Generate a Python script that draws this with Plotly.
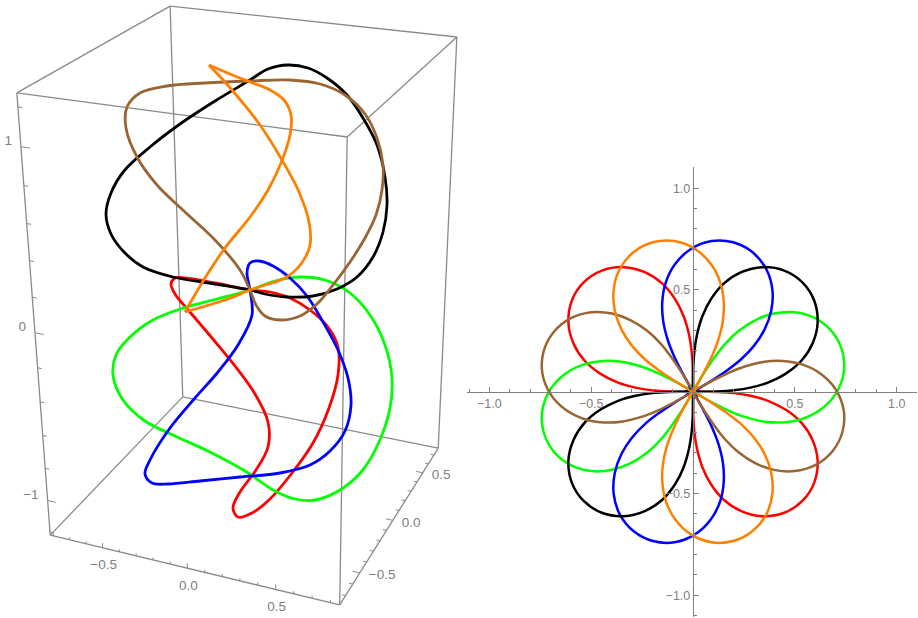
import numpy as np
import plotly.graph_objects as go

GRAY = "#808080"
BOX_FONT = dict(family="Liberation Sans, Arial, sans-serif", size=13.5, color=GRAY)
ROSE_FONT = dict(family="Liberation Sans, Arial, sans-serif", size=12.5, color=GRAY)

# Colours and drawing order
curve_names = ["red", "green", "blue", "black", "brown", "orange"]
curve_colors = {"red": "#ff0000", "green": "#00ff00", "blue": "#0000ff",
                "black": "#000000", "brown": "#996633", "orange": "#ff8000"}

# Left panel, 3D box limits and ticks
x_limits = [-0.82, 0.85]
y_limits = [-0.78, 0.78]
z_limits = [-1.22, 1.27]
x_minor = [-0.8, -0.7, -0.6, -0.4, -0.3, -0.2, -0.1, 0.1, 0.2, 0.3, 0.4, 0.6, 0.7, 0.8]
y_minor = [-0.7, -0.6, -0.4, -0.3, -0.2, -0.1, 0.1, 0.2, 0.3, 0.4, 0.6, 0.7]
z_minor = [-1.2, -0.8, -0.6, -0.4, -0.2, 0.2, 0.4, 0.6, 0.8, 1.2]
xy_major = [-0.5, 0.0, 0.5]
xy_major_text = ["\u22120.5", "0.0", "0.5"]
z_major = [-1, 0, 1]
z_major_text = ["\u22121", "0", "1"]

# Where the eight box corners fall in the view plane, in (x, y, z) order:
# (x0,y0,z0) (x0,y0,z1) (x0,y1,z0) (x0,y1,z1) (x1,y0,z0) (x1,y0,z1) (x1,y1,z0) (x1,y1,z1)
corner_u = [50, 17, 183, 170, 340, 347, 438, 457]
corner_v = [535, 93, 397, 6, 605, 137, 448, 37]

# Left panel, the curves as seen in the view plane.
black_u = [250, 215, 173, 143, 124, 111, 106, 111, 124, 150, 180, 215, 250, 268, 288, 308, 327, 347, 363, 377, 385,
           387, 383, 373, 357, 337, 313, 287, 265, 250]
black_v = [290, 284, 277, 267, 252, 234, 214, 193, 171, 147, 124, 101, 80, 69, 65, 68, 78, 95, 118, 145, 177,
           205, 232, 257, 277, 289, 296, 297, 294, 290]
brown_u = [250, 240, 215, 185, 157, 137, 126, 127, 140, 167, 205, 250, 290, 320, 345, 365, 377, 383, 382, 376, 365,
           350, 333, 318, 300, 280, 265, 256, 250]
brown_v = [290, 270, 240, 212, 185, 157, 128, 107, 93, 86, 83, 81, 80, 84, 95, 114, 138, 165, 190, 215, 238,
           262, 285, 303, 316, 320, 316, 305, 290]
# orange has two sharp corners, so it is kept in two pieces
orange_u = [185, 205, 225, 250, 268, 281, 290, 291, 284, 270, 250, 230, 209, None,
            209, 232, 260, 282, 299, 309, 310, 301, 285, 265, 250, 225, 185]
orange_v = [312, 278, 248, 217, 190, 163, 135, 115, 100, 90, 82, 74, 65, None,
            65, 90, 125, 160, 192, 222, 245, 264, 278, 285, 290, 300, 312]
red_u = [250, 215, 185, 175, 171, 175, 190, 212, 235, 255, 268, 268, 256, 240, 233, 238, 252, 270, 292, 313, 329,
         338, 338, 328, 310, 290, 270, 250]
red_v = [290, 283, 278, 278, 284, 294, 312, 338, 366, 394, 422, 447, 470, 492, 508, 517, 513, 499, 473, 443, 408,
         375, 347, 327, 310, 298, 292, 290]
blue_u = [250, 247, 250, 259, 273, 290, 307, 323, 338, 348, 351, 345, 330, 310, 280, 240, 200, 168, 152, 145, 150,
          170, 195, 218, 238, 252, 250]
blue_v = [290, 273, 263, 261, 266, 278, 296, 322, 350, 378, 405, 431, 451, 465, 473, 477, 481, 484, 483, 474, 460,
          428, 398, 372, 345, 315, 290]
green_u = [183, 153, 130, 116, 113, 123, 145, 175, 210, 245, 275, 295, 315, 340, 362, 379, 390, 392, 385, 370, 350,
           325, 300, 275, 250, 217, 183]
green_v = [308, 320, 337, 355, 375, 400, 421, 436, 452, 471, 491, 499, 500, 490, 471, 442, 408, 378, 345, 315, 293,
           280, 277, 281, 290, 299, 308]

# Right panel, the same colours as two-lobed roses
black_x = [0, .050, .119, .201, .282, .371, .456, .532, .587, .612, .595, .537, .448, .339, .237, .152, .089, .046, .020, .007, .001, 0, 0, None,
           0, -.050, -.119, -.201, -.282, -.371, -.456, -.532, -.587, -.612, -.595, -.537, -.448, -.339, -.237, -.152, -.089, -.046, -.020, -.007, -.001, 0, 0]
black_y = [0, 0, .001, .007, .020, .046, .089, .152, .237, .339, .448, .537, .595, .612, .587, .532, .456, .371, .282, .201, .119, .050, 0, None,
           0, 0, -.001, -.007, -.020, -.046, -.089, -.152, -.237, -.339, -.448, -.537, -.595, -.612, -.587, -.532, -.456, -.371, -.282, -.201, -.119, -.050, 0]
red_x = [0, 0, -.001, -.007, -.020, -.046, -.089, -.152, -.237, -.339, -.448, -.537, -.595, -.612, -.587, -.532, -.456, -.371, -.282, -.201, -.119, -.050, 0, None,
         0, 0, .001, .007, .020, .046, .089, .152, .237, .339, .448, .537, .595, .612, .587, .532, .456, .371, .282, .201, .119, .050, 0]
red_y = [0, .050, .119, .201, .282, .371, .456, .532, .587, .612, .595, .537, .448, .339, .237, .152, .089, .046, .020, .007, .001, 0, 0, None,
         0, -.050, -.119, -.201, -.282, -.371, -.456, -.532, -.587, -.612, -.595, -.537, -.448, -.339, -.237, -.152, -.089, -.046, -.020, -.007, -.001, 0, 0]
green_x = [0, .043, .104, .177, .254, .344, .440, .536, .627, .700, .740, .734, .686, .600, .499, .398, .305, .225, .158, .107, .061, .025, 0, None,
           0, -.043, -.104, -.177, -.254, -.344, -.440, -.536, -.627, -.700, -.740, -.734, -.686, -.600, -.499, -.398, -.305, -.225, -.158, -.107, -.061, -.025, 0]
green_y = [0, -.025, -.058, -.094, -.124, -.146, -.151, -.134, -.088, -.012, .091, .197, .291, .361, .390, .384, .351, .299, .235, .170, .102, .043, 0, None,
           0, .025, .058, .094, .124, .146, .151, .134, .088, .012, -.091, -.197, -.291, -.361, -.390, -.384, -.351, -.299, -.235, -.170, -.102, -.043, 0]
blue_x = [0, .043, .102, .170, .235, .299, .351, .384, .390, .361, .291, .197, .091, -.012, -.088, -.134, -.151, -.146, -.124, -.094, -.058, -.025, 0, None,
          0, -.043, -.102, -.170, -.235, -.299, -.351, -.384, -.390, -.361, -.291, -.197, -.091, .012, .088, .134, .151, .146, .124, .094, .058, .025, 0]
blue_y = [0, .025, .061, .107, .158, .225, .305, .398, .499, .600, .686, .734, .740, .700, .627, .536, .440, .344, .254, .177, .104, .043, 0, None,
          0, -.025, -.061, -.107, -.158, -.225, -.305, -.398, -.499, -.600, -.686, -.734, -.740, -.700, -.627, -.536, -.440, -.344, -.254, -.177, -.104, -.043, 0]
orange_x = [0, .025, .058, .094, .124, .146, .151, .134, .088, .012, -.091, -.197, -.291, -.361, -.390, -.384, -.351, -.299, -.235, -.170, -.102, -.043, 0, None,
            0, -.025, -.058, -.094, -.124, -.146, -.151, -.134, -.088, -.012, .091, .197, .291, .361, .390, .384, .351, .299, .235, .170, .102, .043, 0]
orange_y = [0, .043, .104, .177, .254, .344, .440, .536, .627, .700, .740, .734, .686, .600, .499, .398, .305, .225, .158, .107, .061, .025, 0, None,
            0, -.043, -.104, -.177, -.254, -.344, -.440, -.536, -.627, -.700, -.740, -.734, -.686, -.600, -.499, -.398, -.305, -.225, -.158, -.107, -.061, -.025, 0]
brown_x = [0, -.025, -.061, -.107, -.158, -.225, -.305, -.398, -.499, -.600, -.686, -.734, -.740, -.700, -.627, -.536, -.440, -.344, -.254, -.177, -.104, -.043, 0, None,
           0, .025, .061, .107, .158, .225, .305, .398, .499, .600, .686, .734, .740, .700, .627, .536, .440, .344, .254, .177, .104, .043, 0]
brown_y = [0, .043, .102, .170, .235, .299, .351, .384, .390, .361, .291, .197, .091, -.012, -.088, -.134, -.151, -.146, -.124, -.094, -.058, -.025, 0, None,
           0, -.043, -.102, -.170, -.235, -.299, -.351, -.384, -.390, -.361, -.291, -.197, -.091, .012, .088, .134, .151, .146, .124, .094, .058, .025, 0]

rose_limits_x = [-1.11, 1.10]
rose_limits_y = [-1.107, 1.104]
rose_major = [-1.0, -0.5, 0.5, 1.0]
rose_major_text = ["\u22121.0", "\u22120.5", "0.5", "1.0"]
rose_minor = [-1.1, -0.9, -0.8, -0.7, -0.6, -0.4, -0.3, -0.2, -0.1, 0.1, 0.2, 0.3, 0.4, 0.6, 0.7, 0.8, 0.9, 1.1]


def fit_camera():
    # pinhole camera through the box corners (direct linear transform)
    rows = []
    i = 0
    for x in x_limits:
        for y in y_limits:
            for z in z_limits:
                u, v = corner_u[i], corner_v[i]
                rows.append([x, y, z, 1, 0, 0, 0, 0, -u * x, -u * y, -u * z, -u])
                rows.append([0, 0, 0, 0, x, y, z, 1, -v * x, -v * y, -v * z, -v])
                i += 1
    return np.linalg.svd(np.array(rows, dtype=float))[2][-1].reshape(3, 4)


camera = fit_camera()


def project(x, y, z):
    u, v, w = camera @ np.array([x, y, z, 1.0])
    return u / w, v / w


def segments(pairs):
    us, vs = [], []
    for a, b in pairs:
        ua, va = project(*a)
        ub, vb = project(*b)
        us += [ua, ub, None]
        vs += [va, vb, None]
    return us, vs


x0, x1 = x_limits
y0, y1 = y_limits
z0, z1 = z_limits
box_edges = [
    ((x0, y0, z0), (x1, y0, z0)), ((x1, y0, z0), (x1, y1, z0)), ((x1, y1, z0), (x0, y1, z0)), ((x0, y1, z0), (x0, y0, z0)),
    ((x0, y0, z1), (x1, y0, z1)), ((x1, y0, z1), (x1, y1, z1)), ((x1, y1, z1), (x0, y1, z1)), ((x0, y1, z1), (x0, y0, z1)),
    ((x0, y0, z0), (x0, y0, z1)), ((x1, y0, z0), (x1, y0, z1)), ((x1, y1, z0), (x1, y1, z1)), ((x0, y1, z0), (x0, y1, z1)),
]


def x_tick(x, size):
    return (x, y0, z0), (x, y0, z0 + size)


def y_tick(y, size):
    return (x1, y, z0), (x1 - size, y, z0)


def z_tick(z, size):
    return (x0, y0, z), (x0 + size, y0, z)


tick_pairs = (
    [x_tick(t, 0.03) for t in xy_major] + [x_tick(t, 0.016) for t in x_minor]
    + [y_tick(t, 0.04) for t in xy_major] + [y_tick(t, 0.02) for t in y_minor]
    + [z_tick(t, 0.05) for t in z_major] + [z_tick(t, 0.025) for t in z_minor]
)

fig = go.Figure()

box_u, box_v = segments(box_edges)
fig.add_trace(go.Scatter(x=box_u, y=box_v, mode="lines", line=dict(color="#8a8a8a", width=1.3), xaxis="x", yaxis="y"))
tick_u, tick_v = segments(tick_pairs)
fig.add_trace(go.Scatter(x=tick_u, y=tick_v, mode="lines", line=dict(color="#8a8a8a", width=1), xaxis="x", yaxis="y"))

left_curves = {
    "red": (red_u, red_v), "green": (green_u, green_v), "blue": (blue_u, blue_v),
    "black": (black_u, black_v), "brown": (brown_u, brown_v), "orange": (orange_u, orange_v),
}
right_curves = {
    "red": (red_x, red_y), "green": (green_x, green_y), "blue": (blue_x, blue_y),
    "black": (black_x, black_y), "brown": (brown_x, brown_y), "orange": (orange_x, orange_y),
}
for name in curve_names:
    u, v = left_curves[name]
    fig.add_trace(go.Scatter(x=u, y=v, mode="lines", xaxis="x", yaxis="y",
                             line=dict(color=curve_colors[name], width=2.8, shape="spline", smoothing=1)))
for name in curve_names:
    x, y = right_curves[name]
    fig.add_trace(go.Scatter(x=x, y=y, mode="lines", xaxis="x2", yaxis="y2",
                             line=dict(color=curve_colors[name], width=2.5, shape="spline", smoothing=1)))


def tick_labels(points, texts, position, du, dv):
    us, vs = zip(*[project(*p) for p in points])
    fig.add_trace(go.Scatter(x=[u + du for u in us], y=[v + dv for v in vs], text=texts, mode="text",
                             textposition=position, textfont=BOX_FONT, xaxis="x", yaxis="y"))


tick_labels([(t, y0, z0) for t in xy_major], xy_major_text, "middle center", 1, 18)
tick_labels([(x1, t, z0) for t in xy_major], xy_major_text, "middle right", 9, 3)
tick_labels([(x0, y0, t) for t in z_major], z_major_text, "middle left", -9, -5)

rose_axis = dict(
    showgrid=False, zeroline=False, showline=True, linecolor=GRAY, linewidth=1.4, anchor="free",
    ticks="inside", ticklen=5, tickwidth=1, tickcolor=GRAY, tickfont=ROSE_FONT, tickmode="array",
    tickvals=rose_major, ticktext=rose_major_text,
    minor=dict(ticks="inside", ticklen=3, tickwidth=1, tickcolor=GRAY, tickmode="array", tickvals=rose_minor),
)
fig.update_layout(
    width=918, height=618, margin=dict(l=0, r=0, t=0, b=0), paper_bgcolor="white", plot_bgcolor="white",
    showlegend=False, hovermode=False,
    xaxis=dict(domain=[0, 480 / 918], range=[0, 480], visible=False),
    yaxis=dict(domain=[0, 1], range=[618, 0], visible=False),
    xaxis2=dict(domain=[467 / 918, 917 / 918], range=rose_limits_x, side="bottom",
                position=(618 - 391.7) / 618, **rose_axis),
    yaxis2=dict(domain=[1 / 618, 451 / 618], range=rose_limits_y, side="left",
                position=693 / 918, **rose_axis),
)
# the page's default body margin would push the figure 8 px down and right
fig.write_html("out.html", config=dict(displayModeBar=False), post_script="document.body.style.margin = '0';")
